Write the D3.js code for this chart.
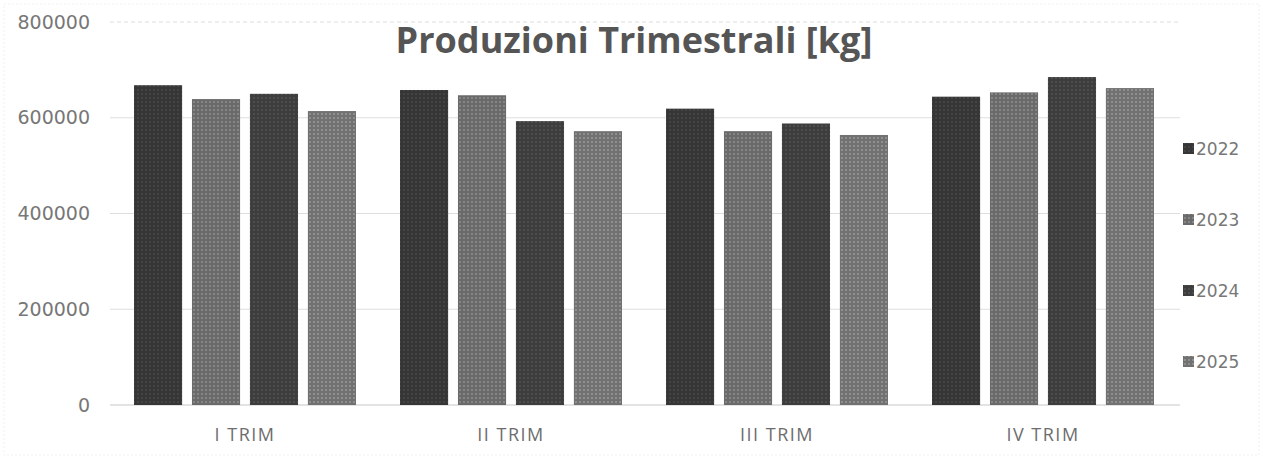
<!DOCTYPE html>
<html>
<head>
<meta charset="utf-8">
<script src="https://cdn.jsdelivr.net/npm/d3@7"></script>
<style>
  body { margin: 0; background: #fff; }
  svg { display: block; }
</style>
</head>
<body>
<div id="container"></div>
<script>
// Dati
var trimestri = ["I TRIM", "II TRIM", "III TRIM", "IV TRIM"];
var anni = ["2022", "2023", "2024", "2025"];
var prod2022 = [668000, 658000, 619000, 644000];
var prod2023 = [639000, 647000, 572000, 653000];
var prod2024 = [650000, 593000, 588000, 685000];
var prod2025 = [614000, 572000, 564000, 662000];
var yTicks = [0, 200000, 400000, 600000, 800000];

var serie = [prod2022, prod2023, prod2024, prod2025];
var colori = ["#363636", "#6a6a6a", "#3d3d3d", "#717171"];

var width = 1263, height = 459;
var svg = d3.select("div#container").append("svg")
    .attr("width", width)
    .attr("height", height);

// texture a puntini come nella stampa
var defs = svg.append("defs");
colori.forEach(function(c, i) {
  var p = defs.append("pattern")
      .attr("id", "pat" + i)
      .attr("width", 4).attr("height", 4)
      .attr("patternUnits", "userSpaceOnUse");
  p.append("rect").attr("width", 4).attr("height", 4).attr("fill", c);
  p.append("circle").attr("cx", 2).attr("cy", 2).attr("r", 0.9)
      .attr("fill", d3.color(c).brighter(0.9));
});

var x0 = d3.scaleBand().domain(trimestri).range([112, 1176]).paddingInner(0).paddingOuter(0);
var x1 = d3.scaleBand().domain(anni).range([22, x0.bandwidth() - 22]).paddingInner(0.17).paddingOuter(0);
var y = d3.scaleLinear().domain([0, 800000]).range([405, 22]);

// cornice leggera
svg.append("rect")
  .attr("x", 4).attr("y", 4).attr("width", 1255).attr("height", 451)
  .attr("fill", "none").attr("stroke", "#f0f0f0").attr("stroke-dasharray", "2,2");

// griglia
svg.append("g").selectAll("line")
  .data(yTicks)
  .enter().append("line")
    .attr("x1", 110).attr("x2", 1180)
    .attr("y1", function(d) { return y(d); })
    .attr("y2", function(d) { return y(d); })
    .attr("stroke", function(d) { return d === 0 ? "#c8c8c8" : "#dedede"; })
    .attr("stroke-width", 1.2)
    .attr("stroke-dasharray", function(d) { return d === 800000 ? "4,3" : null; });

// asse y
var yAxis = d3.axisLeft(y).tickValues(yTicks).tickSize(0).tickPadding(0).tickFormat(d3.format("d"));
var gy = svg.append("g").attr("transform", "translate(90,0)").call(yAxis);
gy.select(".domain").remove();
gy.selectAll("text")
  .attr("fill", "#777")
  .style("font-family", "DejaVu Sans, sans-serif")
  .style("font-size", "19px");

// asse x
var xAxis = d3.axisBottom(x0).tickSize(0).tickPadding(0);
var gx = svg.append("g").attr("transform", "translate(0,428)").call(xAxis);
gx.select(".domain").remove();
gx.selectAll("text")
  .attr("fill", "#6d6d6d")
  .style("font-family", "Open Sans, sans-serif")
  .style("font-size", "18px")
  .style("letter-spacing", "1.5px");

// barre
var gruppi = svg.append("g").selectAll("g")
  .data(trimestri)
  .enter().append("g")
    .attr("transform", function(d) { return "translate(" + x0(d) + ",0)"; });

gruppi.selectAll("rect")
  .data(function(d, i) { return anni.map(function(a, j) { return {anno: a, idx: j, val: serie[j][i]}; }); })
  .enter().append("rect")
    .attr("x", function(d) { return x1(d.anno); })
    .attr("y", function(d) { return y(d.val); })
    .attr("width", x1.bandwidth())
    .attr("height", function(d) { return y(0) - y(d.val); })
    .attr("fill", function(d) { return "url(#pat" + d.idx + ")"; });

// titolo
svg.append("text")
  .attr("x", 634).attr("y", 53)
  .attr("text-anchor", "middle")
  .attr("fill", "#555")
  .style("font-family", "Open Sans, sans-serif")
  .style("font-weight", "bold")
  .style("font-size", "36px")
  .text("Produzioni Trimestrali [kg]");

// legenda
var leg = svg.append("g").selectAll("g")
  .data(anni)
  .enter().append("g")
    .attr("transform", function(d, i) { return "translate(1183," + (149 + i * 71) + ")"; });
leg.append("rect")
  .attr("x", 0).attr("y", -6).attr("width", 11).attr("height", 11)
  .attr("fill", function(d, i) { return "url(#pat" + i + ")"; });
leg.append("text")
  .attr("x", 13).attr("y", 0).attr("dy", "0.35em")
  .attr("fill", "#777")
  .style("font-family", "DejaVu Sans, sans-serif")
  .style("font-size", "17px")
  .text(function(d) { return d; });
</script>
</body>
</html>
